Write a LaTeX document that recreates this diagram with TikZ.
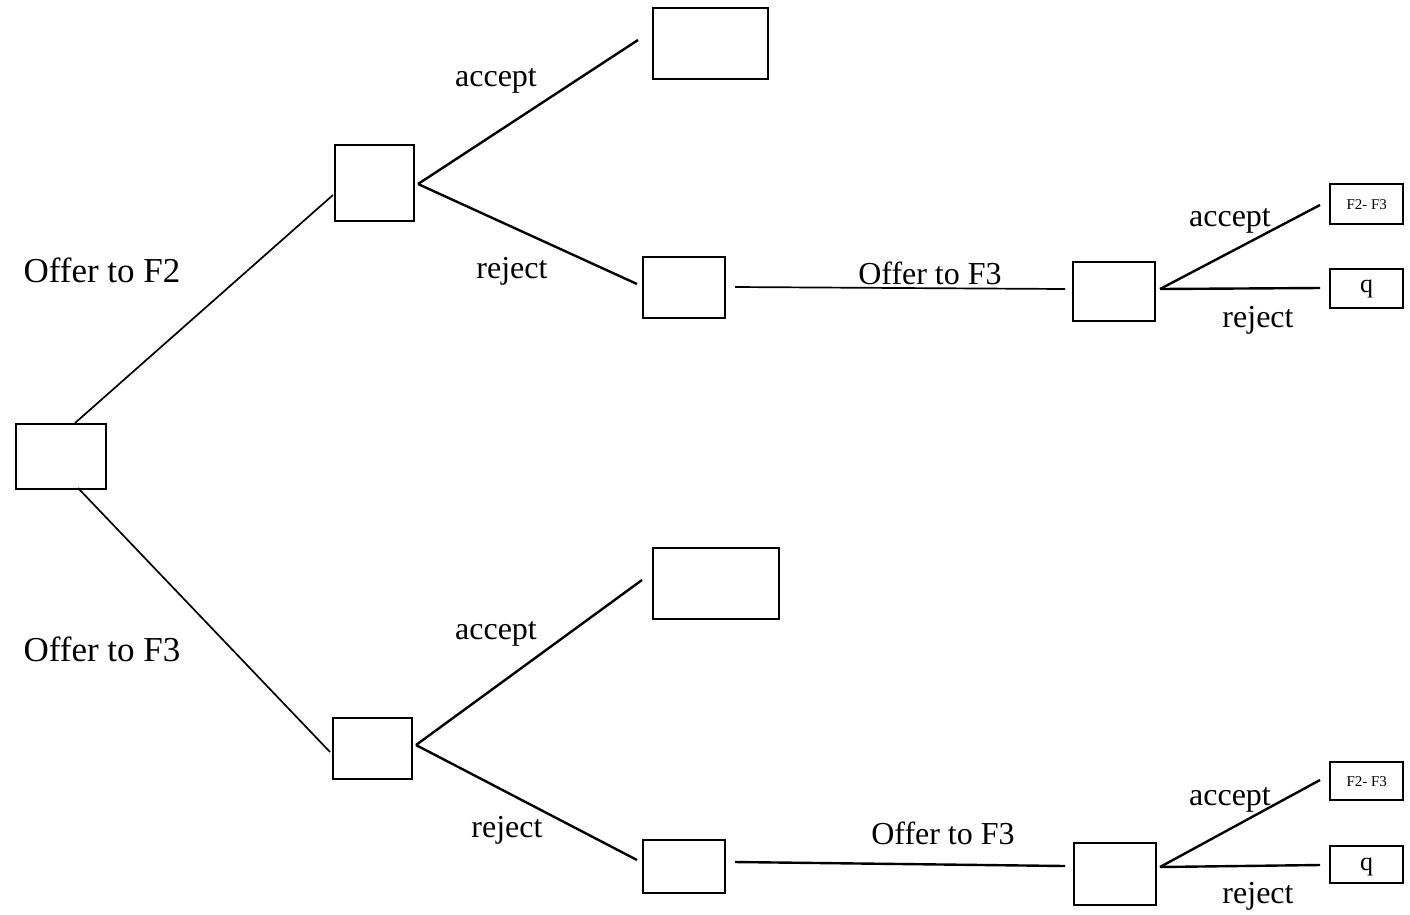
\documentclass[tikz,border=0pt]{standalone}
\usepackage{fontspec}
\setmainfont{Liberation Serif}
\begin{document}
\begin{tikzpicture}[x=1pt,y=-1pt,
  box/.style={draw,line width=2.4pt,inner sep=0pt,anchor=north west},
  edge/.style={line width=2.4pt},
  thinedge/.style={line width=1.7pt},
  lbl/.style={font=\fontsize{32}{34}\selectfont,inner sep=0pt},
  biglbl/.style={font=\fontsize{35}{37}\selectfont,inner sep=0pt},
  small/.style={font=\fontsize{15}{16}\selectfont},
  qfont/.style={font=\fontsize{26}{28}\selectfont}]
\useasboundingbox (0,0) rectangle (1410,914);
% boxes (top-left corner, size)
\node[box,minimum width=90pt,minimum height=65pt] (R) at (15,423) {};
\node[box,minimum width=79pt,minimum height=76pt] (A) at (334,144) {};
\node[box,minimum width=79pt,minimum height=61pt] (B) at (332,717) {};
\node[box,minimum width=115pt,minimum height=71pt] (Aacc) at (652,7) {};
\node[box,minimum width=82pt,minimum height=61pt] (Arej) at (642,256) {};
\node[box,minimum width=82pt,minimum height=59pt] (Afar) at (1072,261) {};
\node[box,minimum width=73pt,minimum height=40pt,small] (Af) at (1329,183) {F2- F3};
\node[box,minimum width=73pt,minimum height=39pt,qfont] (Aq) at (1329,268) {q};
\node[box,minimum width=126pt,minimum height=71pt] (Bacc) at (652,547) {};
\node[box,minimum width=82pt,minimum height=53pt] (Brej) at (642,839) {};
\node[box,minimum width=82pt,minimum height=62pt] (Bfar) at (1073,842) {};
\node[box,minimum width=73pt,minimum height=38pt,small] (Bf) at (1329,761) {F2- F3};
\node[box,minimum width=73pt,minimum height=37pt,qfont,text depth=-2pt] (Bq) at (1329,845) {q};
% connector end points
\coordinate (R1) at (75,423);
\coordinate (R2) at (78,488);
\coordinate (A0) at (333,195);
\coordinate (B0) at (330,752);
\coordinate (Ab) at (418,184);
\coordinate (Aacc0) at (638,40);
\coordinate (Arej0) at (637,284);
\coordinate (Arej1) at (735,287);
\coordinate (Afar0) at (1065,289);
\coordinate (Afb) at (1160,289);
\coordinate (Af0) at (1320,205);
\coordinate (Aq0) at (1320,288);
\coordinate (Bb) at (416,745);
\coordinate (Bacc0) at (642,580);
\coordinate (Brej0) at (637,860);
\coordinate (Brej1) at (735,862);
\coordinate (Bfar0) at (1065,866);
\coordinate (Bfb) at (1160,867);
\coordinate (Bf0) at (1320,780);
\coordinate (Bq0) at (1320,865);
% connectors
\draw[thinedge] (R1) -- (A0);
\draw[thinedge] (R2) -- (B0);
\draw[edge] (Ab) -- (Aacc0);
\draw[edge] (Ab) -- (Arej0);
\draw[thinedge] (Arej1) -- (Afar0);
\draw[edge] (Afb) -- (Af0);
\draw[edge] (Afb) -- (Aq0);
\draw[edge] (Bb) -- (Bacc0);
\draw[edge] (Bb) -- (Brej0);
\draw[edge] (Brej1) -- (Bfar0);
\draw[edge] (Bfb) -- (Bf0);
\draw[edge] (Bfb) -- (Bq0);
% labels
\node[biglbl] (l1) at (102,270) {Offer to F2};
\node[biglbl] (l2) at (102,649) {Offer to F3};
\node[lbl] (l3) at (496,81) {accept};
\node[lbl] (l4) at (512,271) {reject};
\node[lbl] (l5) at (930,273) {Offer to F3};
\node[lbl] (l6) at (1230,221) {accept};
\node[lbl] (l7) at (1258,320) {reject};
\node[lbl] (l8) at (496,634) {accept};
\node[lbl] (l9) at (507,830) {reject};
\node[lbl] (l10) at (943,833) {Offer to F3};
\node[lbl] (l11) at (1230,800) {accept};
\node[lbl] (l12) at (1258,896) {reject};
\end{tikzpicture}
\end{document}
